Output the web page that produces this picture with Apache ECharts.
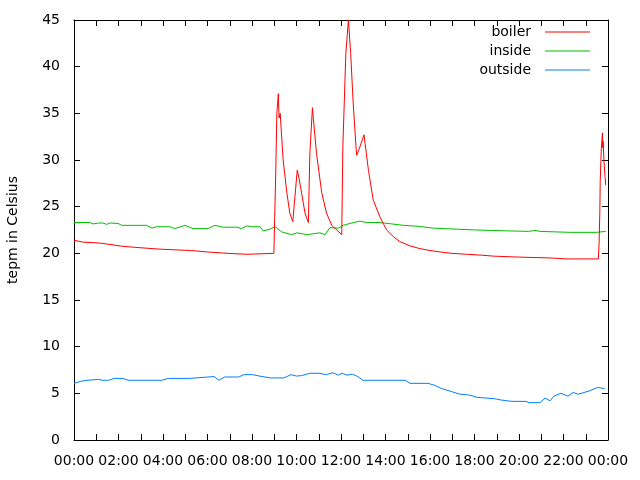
<!DOCTYPE html>
<html>
<head>
<meta charset="utf-8">
<script src="https://cdn.jsdelivr.net/npm/echarts@6/dist/echarts.min.js"></script>
<style>html,body{margin:0;padding:0;background:#fff;}#c{width:640px;height:480px;}</style>
</head>
<body>
<div id="c"></div>
<script>
// Tick labels
const yTicks = [0, 5, 10, 15, 20, 25, 30, 35, 40, 45];
const xTickLabels = ["00:00","02:00","04:00","06:00","08:00","10:00","12:00","14:00","16:00","18:00","20:00","22:00","00:00"];

// boiler
const boilerTimes = ["00:00","00:25","01:10","01:37","02:12","02:58","03:52","04:19","05:17","05:58","06:55","07:46","08:59",
  "09:04","09:07","09:11","09:13","09:16","09:24","09:34","09:42","09:50","10:02","10:07","10:14","10:23","10:32","10:36","10:43","10:45",
  "10:54","11:08","11:21","11:35","12:02","12:05","12:13","12:20","12:26","12:33","12:42","12:51","13:02","13:14","13:27","13:45",
  "14:03","14:21","14:39","15:06","15:33","16:00","16:27","16:59","17:39","18:19","18:51","19:58","21:28","22:09","23:34",
  "23:36","23:38","23:39","23:42","23:45","23:46","23:47","23:49","23:52","23:54"];
const boilerValues = [21.4,21.2,21.1,20.95,20.75,20.6,20.45,20.4,20.3,20.15,20.0,19.9,20.0,
  28.6,35.0,37.1,34.5,35.0,30.0,26.5,24.3,23.4,28.9,28.0,26.4,24.3,23.3,30.7,35.6,34.6,
  30.7,26.5,24.3,23.0,22.0,31.4,41.4,45.0,41.5,36.0,30.5,31.4,32.7,28.9,25.7,23.9,
  22.5,21.8,21.25,20.8,20.5,20.3,20.15,20.0,19.9,19.8,19.7,19.6,19.5,19.4,19.4,
  21.1,24.5,27.7,31.2,32.9,31.3,32.0,30.0,28.2,27.3];

// inside
const insideTimes = ["00:00","00:43","00:52","01:06","01:18","01:28","01:37","01:59","02:09","03:16","03:30","03:43","04:19","04:32",
  "04:59","05:21","06:01","06:20","06:42","07:19","07:32","07:46","07:59","08:22","08:30","08:49","09:02","09:20","09:47","10:01",
  "10:28","11:03","11:17","11:30","11:53","12:06","12:24","12:51","13:09","13:45","14:17","14:48","15:28","16:09","17:07","18:06",
  "18:46","20:25","20:43","20:57","22:17","23:29","23:33","23:54"];
const insideValues = [23.3,23.3,23.15,23.25,23.25,23.1,23.25,23.2,23.0,23.0,22.7,22.85,22.85,22.65,
  23.0,22.65,22.65,23.0,22.8,22.8,22.65,22.95,22.85,22.85,22.4,22.6,22.85,22.3,22.0,22.2,
  22.0,22.2,22.0,22.75,22.7,23.0,23.2,23.45,23.3,23.3,23.15,23.0,22.9,22.7,22.6,22.5,
  22.45,22.35,22.45,22.35,22.25,22.25,22.45,22.35];

// outside
const outsideTimes = ["00:00","00:19","00:38","01:06","01:16","01:34","01:48","02:12","02:26","03:56","04:15","05:12","05:16","06:18",
  "06:31","06:46","07:24","07:38","08:02","08:20","08:49","09:26","09:45","10:00","10:14","10:36","11:01","11:20","11:38","11:53",
  "12:03","12:16","12:31","12:45","12:59","14:53","15:06","15:55","16:13","16:32","16:59","17:18","17:48","18:07","18:53","19:11",
  "19:41","20:19","20:27","20:57","21:10","21:24","21:34","21:53","22:12","22:26","22:39","23:09","23:32","23:51"];
const outsideValues = [6.07,6.3,6.4,6.5,6.4,6.4,6.6,6.6,6.4,6.4,6.6,6.6,6.8,6.8,
  6.4,6.75,6.75,7.0,7.0,6.85,6.65,6.65,7.0,6.85,6.9,7.15,7.15,7.0,7.2,6.95,
  7.15,6.95,7.05,6.8,6.4,6.4,6.07,6.07,5.85,5.5,5.18,4.93,4.8,4.57,4.43,4.29,
  4.14,4.14,4.0,4.0,4.5,4.2,4.7,5.0,4.7,5.1,4.9,5.25,5.64,5.5];

function toMin(t){ const p = t.split(':'); return (+p[0])*60 + (+p[1]); }
function pairs(times, vals){ return times.map((t,i)=>[toMin(t), vals[i]]); }

const FONT = 'DejaVu Sans, sans-serif';
const FS = 14;
const chart = echarts.init(document.getElementById('c'), null, {renderer:'canvas'});
const axisLine = {show:true, onZero:false, lineStyle:{color:'#000', width:1}};
const tick = {show:true, inside:true, length:6, lineStyle:{color:'#000', width:1}};
const xFmt = v => (v % 120 === 0) ? xTickLabels[v/120] : '';

function legendFor(name, top){
  return {
    show:true, data:[name], orient:'vertical', right:50, top:top, align:'right',
    icon:'rect', itemWidth:45, itemHeight:1, padding:0,
    textStyle:{fontFamily:FONT, fontSize:FS, color:'#000', padding:[0,9,0,0]}
  };
}

chart.setOption({
  animation:false,
  backgroundColor:'#fff',
  grid:{left:74, right:32, top:20, bottom:40, containLabel:false, outerBoundsMode:'none'},
  legend:[legendFor('boiler',25), legendFor('inside',44), legendFor('outside',63)],
  xAxis:[
    {type:'value', min:0, max:1440, interval:60, position:'bottom',
     axisLine:axisLine, axisTick:tick,
     axisLabel:{formatter:xFmt, fontFamily:FONT, fontSize:FS, color:'#000', margin:14, showMinLabel:true, showMaxLabel:true},
     splitLine:{show:false}},
    {type:'value', min:0, max:1440, interval:60, position:'top',
     axisLine:axisLine, axisTick:tick,
     axisLabel:{show:false}, splitLine:{show:false}}
  ],
  yAxis:[
    {type:'value', min:0, max:45, interval:5, position:'left',
     name:'tepm in Celsius', nameLocation:'middle', nameGap:54, nameRotate:90,
     nameTextStyle:{fontFamily:FONT, fontSize:FS, color:'#000'},
     axisLine:axisLine, axisTick:tick,
     axisLabel:{fontFamily:FONT, fontSize:FS, color:'#000', margin:14,
       formatter: v => yTicks.indexOf(v) >= 0 ? String(v) : ''},
     splitLine:{show:false}},
    {type:'value', min:0, max:45, interval:5, position:'right',
     axisLine:axisLine, axisTick:tick,
     axisLabel:{show:false}, splitLine:{show:false}}
  ],
  series:[
    {name:'boiler', type:'line', data:pairs(boilerTimes, boilerValues), showSymbol:false, symbol:'none',
     lineStyle:{color:'#ff0000', width:1}, itemStyle:{color:'#ff0000'}, z:3},
    {name:'inside', type:'line', data:pairs(insideTimes, insideValues), showSymbol:false, symbol:'none',
     lineStyle:{color:'#00c000', width:1}, itemStyle:{color:'#00c000'}, z:2},
    {name:'outside', type:'line', data:pairs(outsideTimes, outsideValues), showSymbol:false, symbol:'none',
     lineStyle:{color:'#0080ff', width:1}, itemStyle:{color:'#0080ff'}, z:2}
  ]
});
</script>
</body>
</html>
